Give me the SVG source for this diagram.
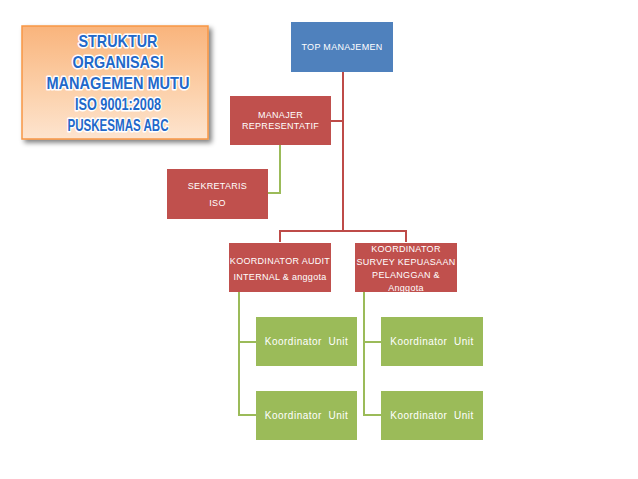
<svg xmlns="http://www.w3.org/2000/svg" width="638" height="479" viewBox="0 0 638 479">
<defs>
<linearGradient id="og" x1="0" y1="0" x2="0" y2="1">
<stop offset="0" stop-color="#f9b47c"/>
<stop offset="0.6" stop-color="#fcd2ad"/>
<stop offset="1" stop-color="#fde4cf"/>
</linearGradient>
<filter id="sh" x="-10%" y="-10%" width="130%" height="130%">
<feGaussianBlur in="SourceAlpha" stdDeviation="2.5"/>
<feOffset dx="3" dy="3" result="b"/>
<feComponentTransfer><feFuncA type="linear" slope="0.5"/></feComponentTransfer>
<feMerge><feMergeNode/><feMergeNode in="SourceGraphic"/></feMerge>
</filter>
</defs>
<style>
.t{font-family:"Liberation Sans","Open Sans",sans-serif;font-size:9px;fill:#ffffff;text-anchor:middle;letter-spacing:0.3px}
.g{font-family:"Liberation Sans","Open Sans",sans-serif;font-size:10px;fill:#ffffff;text-anchor:middle;letter-spacing:0.5px}
.title{font-family:"Liberation Sans","Open Sans",sans-serif;font-size:17px;font-weight:bold;fill:#2268c9;text-anchor:middle;stroke:#ffffff;stroke-width:3px;paint-order:stroke;stroke-linejoin:round}
.red{fill:#c0504d}
.grn{fill:#9bbb59}
.blu{fill:#4f81bd}
.cr{fill:none;stroke:#be4b48;stroke-width:2}
.cg{fill:none;stroke:#9bbb59;stroke-width:2}
</style>
<rect width="638" height="479" fill="#ffffff"/>
<g id="title">
<rect x="22" y="26" width="186" height="113" fill="url(#og)" stroke="#f79646" stroke-width="1.5" filter="url(#sh)"/>
<text class="title" x="118" y="47" textLength="79" lengthAdjust="spacingAndGlyphs">STRUKTUR</text>
<text class="title" x="118" y="68" textLength="91" lengthAdjust="spacingAndGlyphs">ORGANISASI</text>
<text class="title" x="118" y="89" textLength="143" lengthAdjust="spacingAndGlyphs">MANAGEMEN MUTU</text>
<text class="title" x="118" y="110" textLength="86" lengthAdjust="spacingAndGlyphs">ISO 9001:2008</text>
<text class="title" x="118" y="131" textLength="101" lengthAdjust="spacingAndGlyphs">PUSKESMAS ABC</text>
</g>
<g id="connectors">
<path class="cr" d="M343 72 V231 M280 242 V231 H406 V242 M331 121 H343"/>
<path class="cg" d="M280 145 V193 H268"/>
<path class="cg" d="M239 292 V415 H256 M239 342 H256"/>
<path class="cg" d="M364 292 V415 H381 M364 342 H381"/>
</g>
<g id="top">
<rect class="blu" x="291" y="22" width="102" height="50"/>
<text class="t" x="342" y="50">TOP MANAJEMEN</text>
</g>
<g id="manajer">
<rect class="red" x="230" y="96" width="101" height="49"/>
<text class="t" x="280.5" y="118">MANAJER</text>
<text class="t" x="280.5" y="129">REPRESENTATIF</text>
</g>
<g id="sekretaris">
<rect class="red" x="167" y="169" width="101" height="50"/>
<text class="t" x="217.5" y="189">SEKRETARIS</text>
<text class="t" x="217.5" y="206">ISO</text>
</g>
<g id="audit">
<rect class="red" x="229" y="243" width="102" height="49"/>
<text class="t" x="280" y="264">KOORDINATOR AUDIT</text>
<text class="t" x="280" y="280">INTERNAL &amp; anggota</text>
</g>
<g id="survey">
<rect class="red" x="355" y="243" width="102" height="49"/>
<text class="t" x="406" y="252">KOORDINATOR</text>
<text class="t" x="406" y="265">SURVEY KEPUASAAN</text>
<text class="t" x="406" y="278">PELANGGAN &amp;</text>
<text class="t" x="406" y="291">Anggota</text>
</g>
<g id="unit1">
<rect class="grn" x="256" y="317" width="101" height="49"/>
<text class="g" x="306.5" y="345" xml:space="preserve">Koordinator  Unit</text>
</g>
<g id="unit2">
<rect class="grn" x="256" y="391" width="101" height="49"/>
<text class="g" x="306.5" y="419" xml:space="preserve">Koordinator  Unit</text>
</g>
<g id="unit3">
<rect class="grn" x="381" y="317" width="102" height="49"/>
<text class="g" x="432" y="345" xml:space="preserve">Koordinator  Unit</text>
</g>
<g id="unit4">
<rect class="grn" x="381" y="391" width="102" height="49"/>
<text class="g" x="432" y="419" xml:space="preserve">Koordinator  Unit</text>
</g>
</svg>
